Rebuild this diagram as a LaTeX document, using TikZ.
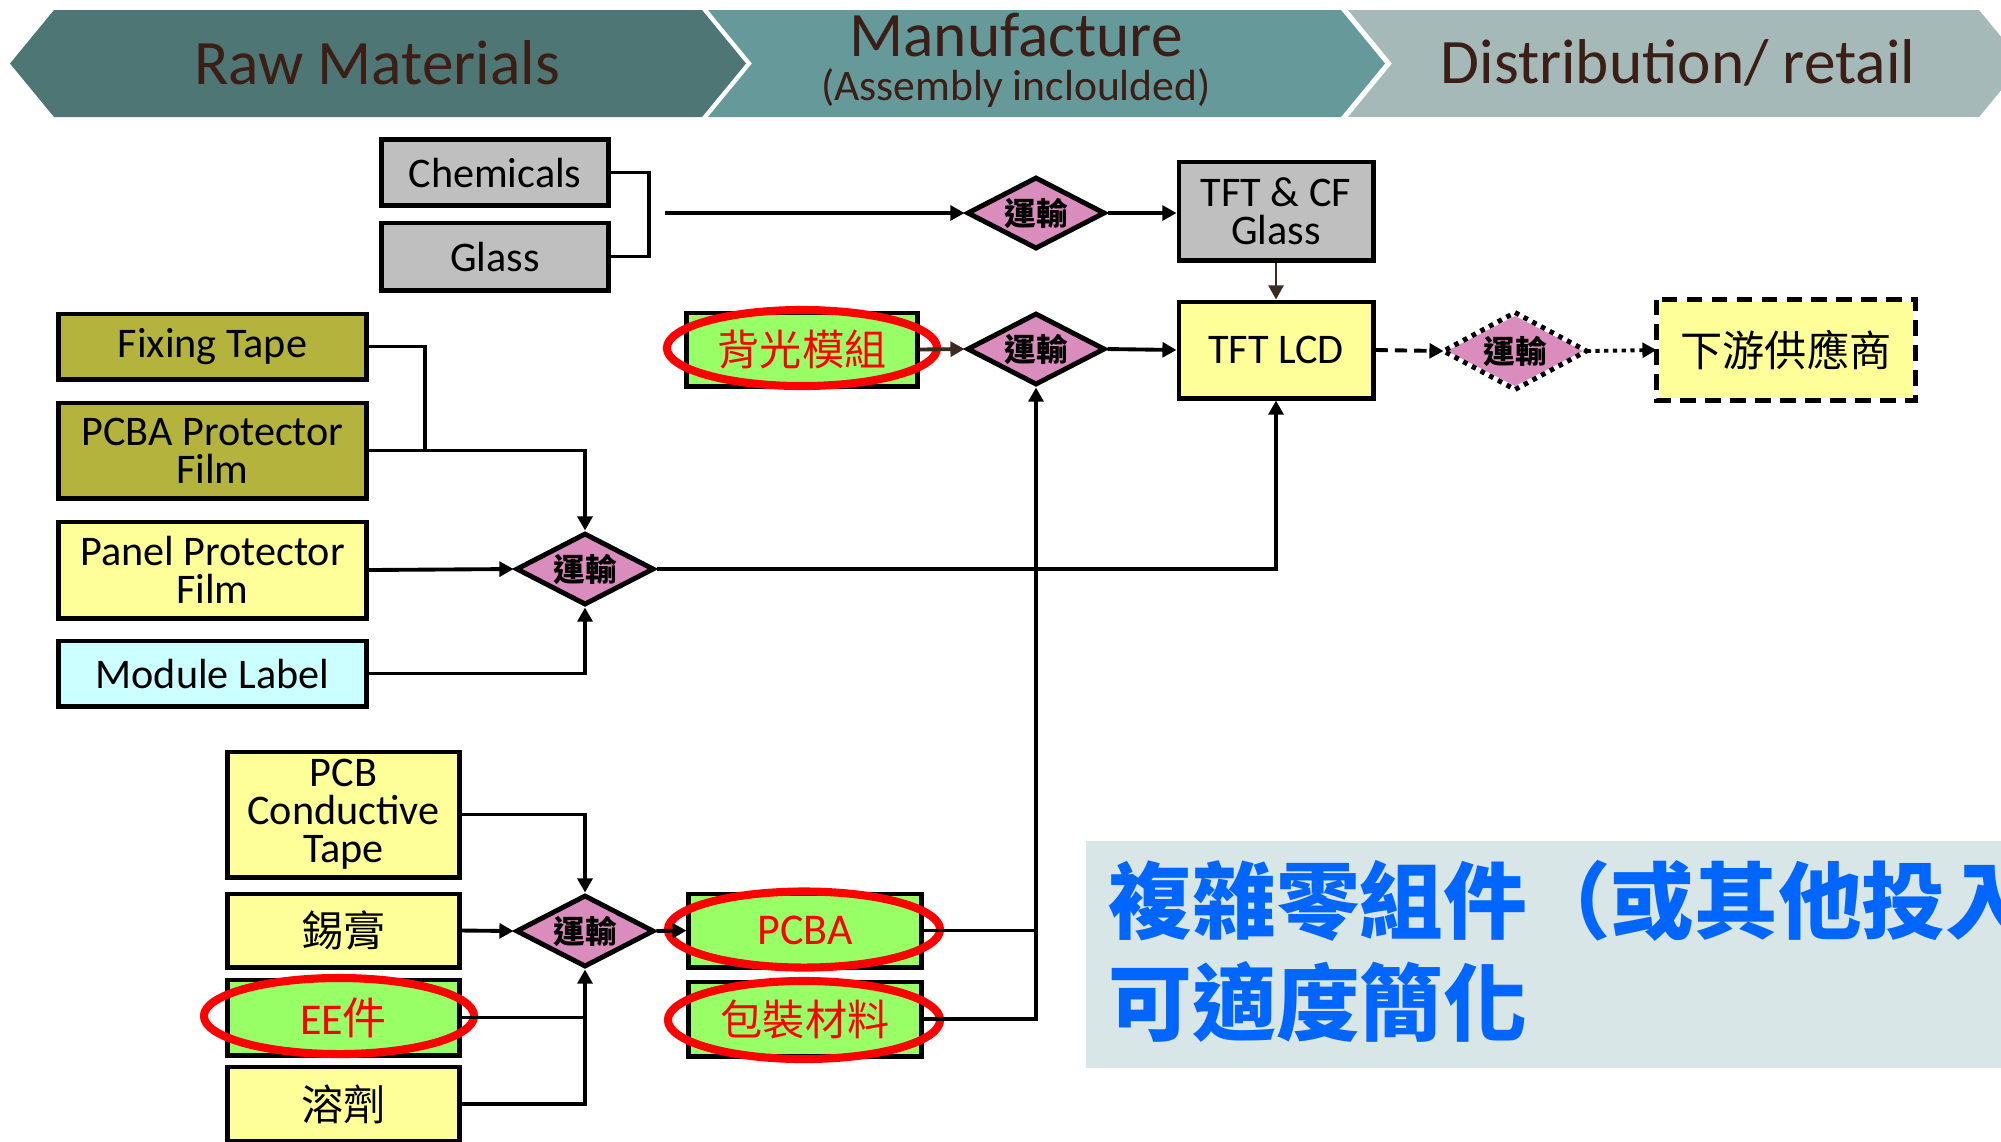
\documentclass[tikz,border=0pt]{standalone}
\usepackage{fontspec}
\setmainfont{Carlito}
\newfontfamily\cjk{Noto Sans CJK TC}
\usepackage{xcolor}
\usetikzlibrary{arrows.meta,shapes.geometric}
\definecolor{rawteal}{HTML}{4E7674}
\definecolor{mfgteal}{HTML}{669999}
\definecolor{disgrey}{HTML}{A4B9B8}
\definecolor{headink}{HTML}{3B1E16}
\definecolor{boxgrey}{HTML}{BFBFBF}
\definecolor{olive}{HTML}{B3B33D}
\definecolor{paleyellow}{HTML}{FFFF99}
\definecolor{palecyan}{HTML}{CCFFFF}
\definecolor{limegreen}{HTML}{99FF66}
\definecolor{shippink}{HTML}{DA8CBD}
\definecolor{inkbrown}{HTML}{3C2A21}
\definecolor{noteblue}{HTML}{0066FF}
\definecolor{notetop}{HTML}{D9E6E7}
\definecolor{notemid}{HTML}{B9CED2}

\begin{document}
\begin{tikzpicture}[
    x=0.01cm,
    y=-0.01cm,
    >={Triangle[length=4pt,width=4.2pt]},
    band/.style={font=\fontsize{18}{18}\selectfont, text=headink, inner sep=0pt},
    matbox/.style={draw=black, line width=1.4pt, inner sep=0pt, align=center,
                   font=\fontsize{12}{10.8}\selectfont},
    greybox/.style={matbox, fill=boxgrey},
    olivebox/.style={matbox, fill=olive},
    yellowbox/.style={matbox, fill=paleyellow},
    cyanbox/.style={matbox, fill=palecyan},
    greenbox/.style={matbox, fill=limegreen, text=red},
    ship/.style={diamond, aspect=2, draw=black, line width=1.4pt, fill=shippink, inner sep=0pt,
                 minimum width=1.38cm, minimum height=0.72cm,
                 font=\cjk\bfseries\fontsize{9}{9}\selectfont},
    link/.style={line width=1.1pt, black},
    flow/.style={->, line width=1.1pt, black},
    feed/.style={->, line width=1.1pt, inkbrown},
    ring/.style={draw=red, line width=2.3pt},
]
\useasboundingbox (0,0) rectangle (2001,1141);
\clip (0,0) rectangle (2001,1141);

% header chevrons
\fill[rawteal] (10,63.5) -- (54,10) -- (702,10) -- (746,63.5) -- (702,117) -- (54,117) -- cycle;
\fill[mfgteal] (708,10) -- (1341,10) -- (1385,63.5) -- (1341,117) -- (708,117) -- (752,63.5) -- cycle;
\fill[disgrey] (1348,10) -- (1979,10) -- (2023,63.5) -- (1979,117) -- (1348,117) -- (1392,63.5) -- cycle;
\node[band] (hraw) at (377,63) {Raw Materials};
\node[band] (hman) at (1016,35) {Manufacture};
\node[band, font=\fontsize{12.4}{12.4}\selectfont] (hmansub) at (1016,88) {(Assembly incloulded)};
\node[band] (hdist) at (1678,63) {Distribution/ retail};

% glass line
\node[greybox, minimum width=2.26cm, minimum height=0.66cm] (chem) at (495,172.5) {Chemicals};
\node[greybox, minimum width=2.26cm, minimum height=0.67cm] (glass) at (495,256.5) {Glass};
\node[ship] (d1) at (1036,213) {運輸};
\node[greybox, minimum width=1.94cm, minimum height=0.98cm] (tftcf) at (1276,211) {TFT \& CF\\Glass};
\node[yellowbox, minimum width=1.94cm, minimum height=0.96cm] (tftlcd) at (1276,350) {TFT LCD};
\node[greenbox, minimum width=2.30cm, minimum height=0.73cm, font=\cjk\fontsize{12}{12}\selectfont]
  (backlt) at (802,349.5) {背光模組};
\node[ship] (d2) at (1036,349) {運輸};
\node[ship, draw=none] (d3) at (1515,351) {運輸};
\draw[line width=1.4pt, dash pattern=on 1.3pt off 1.5pt]
  (d3.north) -- (d3.east) -- (d3.south) -- (d3.west) -- cycle;
\node[yellowbox, draw=none, minimum width=2.54cm, minimum height=0.96cm,
      font=\cjk\fontsize{12}{12}\selectfont] (downstr) at (1786,350) {下游供應商};
\draw[line width=1.4pt, dash pattern=on 4.5pt off 2.6pt]
  (downstr.north west) rectangle (downstr.south east);

% panel materials
\node[olivebox, minimum width=3.07cm, minimum height=0.65cm] (fix) at (212.5,346.5) {Fixing Tape};
\node[olivebox, minimum width=3.07cm, minimum height=0.95cm] (pcbaf) at (212.5,450.5) {PCBA Protector\\Film};
\node[yellowbox, minimum width=3.07cm, minimum height=0.96cm] (panelf) at (212.5,570) {Panel Protector\\Film};
\node[cyanbox, minimum width=3.07cm, minimum height=0.65cm] (modlbl) at (212.5,673.5) {Module Label};
\node[ship] (d4) at (585,569) {運輸};

% PCBA materials
\node[yellowbox, minimum width=2.31cm, minimum height=1.25cm] (pcbct) at (343.5,814.5) {PCB\\Conductive\\Tape};
\node[yellowbox, minimum width=2.31cm, minimum height=0.73cm, font=\cjk\fontsize{12}{12}\selectfont]
  (solder) at (343.5,930.5) {錫膏};
\node[greenbox, minimum width=2.31cm, minimum height=0.75cm, font=\fontsize{12.5}{12}\selectfont]
  (eepart) at (343.5,1017.5) {EE{\cjk 件}};
\node[yellowbox, minimum width=2.31cm, minimum height=0.74cm, font=\cjk\fontsize{12}{12}\selectfont]
  (solvent) at (343.5,1104) {溶劑};
\node[ship] (d5) at (585,931) {運輸};
\node[greenbox, minimum width=2.32cm, minimum height=0.73cm, font=\fontsize{12.5}{12}\selectfont]
  (pcba) at (805,930.5) {PCBA};
\node[greenbox, minimum width=2.32cm, minimum height=0.74cm, font=\cjk\fontsize{12}{12}\selectfont]
  (pack) at (805,1019) {包裝材料};

% red rings
\draw[ring] (802,348) ellipse [x radius=1.35cm, y radius=0.38cm];
\draw[ring] (339,1016) ellipse [x radius=1.35cm, y radius=0.38cm];
\draw[ring] (804,929.5) ellipse [x radius=1.36cm, y radius=0.38cm];
\draw[ring] (804,1020) ellipse [x radius=1.36cm, y radius=0.39cm];

% connectors
\coordinate (brk) at (649,213);
\coordinate (chemout) at (665,213);
\coordinate (fixjoin) at (425,450);
\draw[link] (chem.east) -| (brk) |- (glass.east);
\draw[flow] (chemout) -- (d1.west);
\draw[flow] (d1.east) -- (tftcf.west |- d1.east);
\draw[feed, line width=0.8pt] (tftcf.south) -- (tftlcd.north);
\draw[feed] (backlt.east) -- (d2.west);
\draw[flow] (d2.east) -- (tftlcd.west);
\draw[flow, dash pattern=on 3.5pt off 2pt] (tftlcd.east) -- (d3.west);
\draw[flow, dash pattern=on 1.2pt off 1.3pt] (d3.east) -- (downstr.west);
\draw[link] (fix.east) -| (fixjoin);
\draw[flow] (pcbaf.east) -| (d4.north);
\draw[flow] (panelf.east) -- (d4.west);
\draw[flow] (modlbl.east) -| (d4.south);
\draw[flow] (d4.east) -| (tftlcd.south);
\draw[flow] (pcbct.east) -| (d5.north);
\draw[flow] (solder.east) -- (d5.west);
\draw[link] (eepart.east) -- (eepart.east -| d5.south);
\draw[flow] (solvent.east) -| (d5.south);
\draw[flow] (d5.east) -- (pcba.west);
\draw[link] (pcba.east) -- (pcba.east -| d2.south);
\draw[flow] (pack.east) -| (d2.south);

% note
\shade[top color=notetop, middle color=notemid, bottom color=notetop]
  (1086,841) rectangle (2010,1067);
\node[anchor=west, align=left, text=noteblue, inner sep=0pt,
      font=\cjk\bfseries\fontsize{23.8}{29}\selectfont]
  (note) at (1108,951) {複雜零組件（或其他投入\\可適度簡化};
\end{tikzpicture}
\end{document}
